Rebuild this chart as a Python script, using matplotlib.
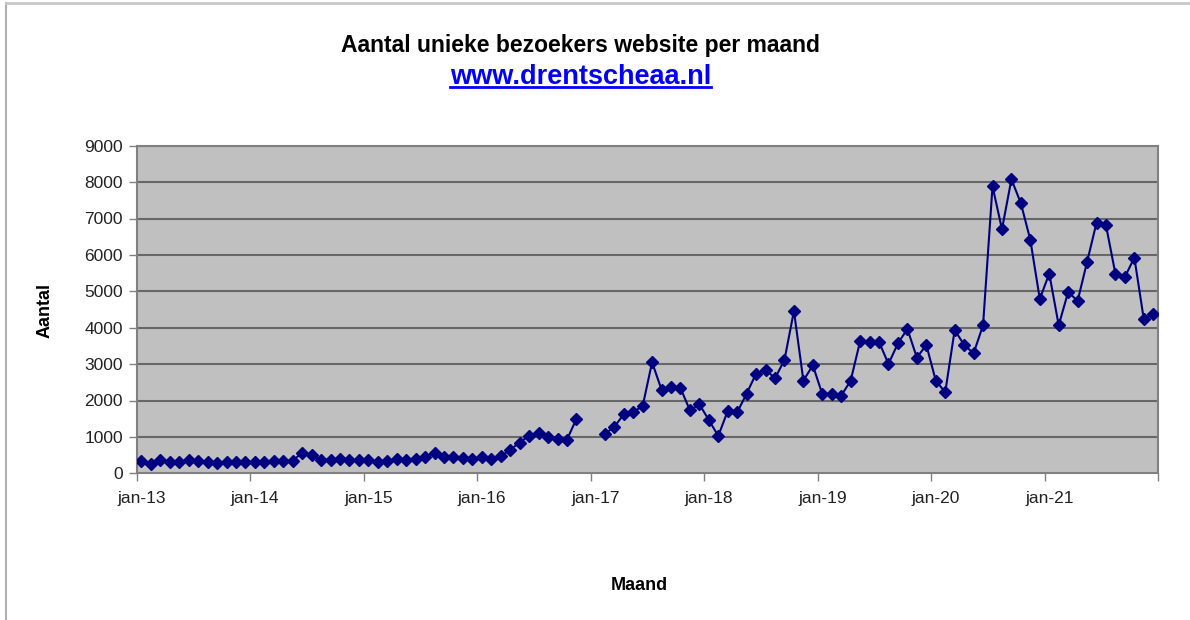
import numpy as np
import matplotlib
matplotlib.use("Agg")
import matplotlib.pyplot as plt
from matplotlib.lines import Line2D

plt.rcParams['font.family'] = ['Liberation Sans', 'DejaVu Sans']

# Monthly unique visitors, jan-2013 .. dec-2021 (NaN = missing months)
visitors_2013 = [339, 256, 375, 311, 311, 357, 339, 302, 275, 320, 320, 311]
visitors_2014 = [311, 320, 339, 339, 348, 568, 504, 357, 357, 403, 357, 375]
visitors_2015 = [357, 311, 348, 385, 366, 403, 449, 549, 440, 449, 430, 403]
visitors_2016 = [440, 403, 467, 650, 843, 1035, 1117, 989, 943, 925, 1493, np.nan]
visitors_2017 = [np.nan, 1081, 1273, 1621, 1685, 1841, 3050, 2299, 2381, 2344, 1731, 1896]
visitors_2018 = [1465, 1026, 1713, 1676, 2189, 2738, 2848, 2610, 3114, 4460, 2546, 2967]
visitors_2019 = [2175, 2175, 2130, 2546, 3627, 3608, 3608, 3004, 3572, 3965, 3178, 3526]
visitors_2020 = [2546, 2225, 3938, 3526, 3297, 4066, 7885, 6704, 8077, 7418, 6411, 4790]
visitors_2021 = [5486, 4066, 4982, 4735, 5806, 6887, 6813, 5476, 5394, 5925, 4231, 4387]

year_labels = ['jan-13', 'jan-14', 'jan-15', 'jan-16', 'jan-17',
               'jan-18', 'jan-19', 'jan-20', 'jan-21']
y_ticks = [0, 1000, 2000, 3000, 4000, 5000, 6000, 7000, 8000, 9000]

values = np.array(visitors_2013 + visitors_2014 + visitors_2015 + visitors_2016 +
                  visitors_2017 + visitors_2018 + visitors_2019 + visitors_2020 +
                  visitors_2021, dtype=float)
months = np.arange(len(values))

fig = plt.figure(figsize=(11.9, 6.2), dpi=100)
ax = fig.add_axes([136.7 / 1190, 1 - 473.3 / 620, (1158 - 136.7) / 1190, (473.3 - 145.7) / 620])
ax.set_facecolor('#C0C0C0')

ax.set_xlim(-0.5, len(values) - 0.5)
ax.set_ylim(0, 9000)

for y in y_ticks[1:]:
    ax.axhline(y, color='#676767', lw=1.5, zorder=1)

ax.plot(months, values, color='#000080', lw=1.5, marker='D', markersize=6,
        markerfacecolor='#000080', markeredgecolor='#000080', zorder=3)

# y axis
ax.set_yticks(y_ticks)
ax.set_yticklabels([str(v) for v in y_ticks])
ax.tick_params(axis='y', length=6, width=1, color='#808080', labelsize=12.5,
               labelcolor='#222222', pad=4)

# x axis: ticks between categories, labels centered on january
ax.set_xticks(np.arange(-0.5, len(values), 12))
ax.set_xticklabels([''] * len(ax.get_xticks()))
ax.set_xticks(np.arange(0, len(values), 12), minor=True)
ax.set_xticklabels(year_labels, minor=True)
ax.tick_params(axis='x', which='major', length=6, width=1, color='#808080')
ax.tick_params(axis='x', which='minor', length=0, labelsize=12.5,
               labelcolor='#222222', pad=13)

for s in ax.spines.values():
    s.set_color('#808080')
    s.set_linewidth(1.5)

fig.text(0.488, 0.927, 'Aantal unieke bezoekers website per maand', ha='center',
         va='center', fontsize=16.5, fontweight='bold', color='black')
url = fig.text(0.488, 0.876, 'www.drentscheaa.nl', ha='center', va='center',
               fontsize=19.5, fontweight='bold', color='#0000FF')
fig.text(45 / 1190, 0.5, 'Aantal', rotation=90, ha='center', va='center',
         fontsize=13, fontweight='bold', color='black')
fig.text(639 / 1190, 1 - 585 / 620, 'Maand', ha='center', va='center',
         fontsize=13, fontweight='bold', color='black')

fig.canvas.draw()
bb = url.get_window_extent(fig.canvas.get_renderer()).transformed(fig.transFigure.inverted())
uy = bb.y0 + 0.004
fig.add_artist(Line2D([bb.x0, bb.x1], [uy, uy], color='#0000FF', lw=2,
                      transform=fig.transFigure))

# figure border (chart area frame)
fig.add_artist(Line2D([6 / 1190, 6 / 1190], [0, 1 - 3 / 620], color='#b0b0b0', lw=1.5,
                      transform=fig.transFigure))
fig.add_artist(Line2D([6 / 1190, 1], [1 - 3 / 620, 1 - 3 / 620], color='#c8c8c8', lw=2,
                      transform=fig.transFigure))

fig.savefig('out.png', dpi=100)
